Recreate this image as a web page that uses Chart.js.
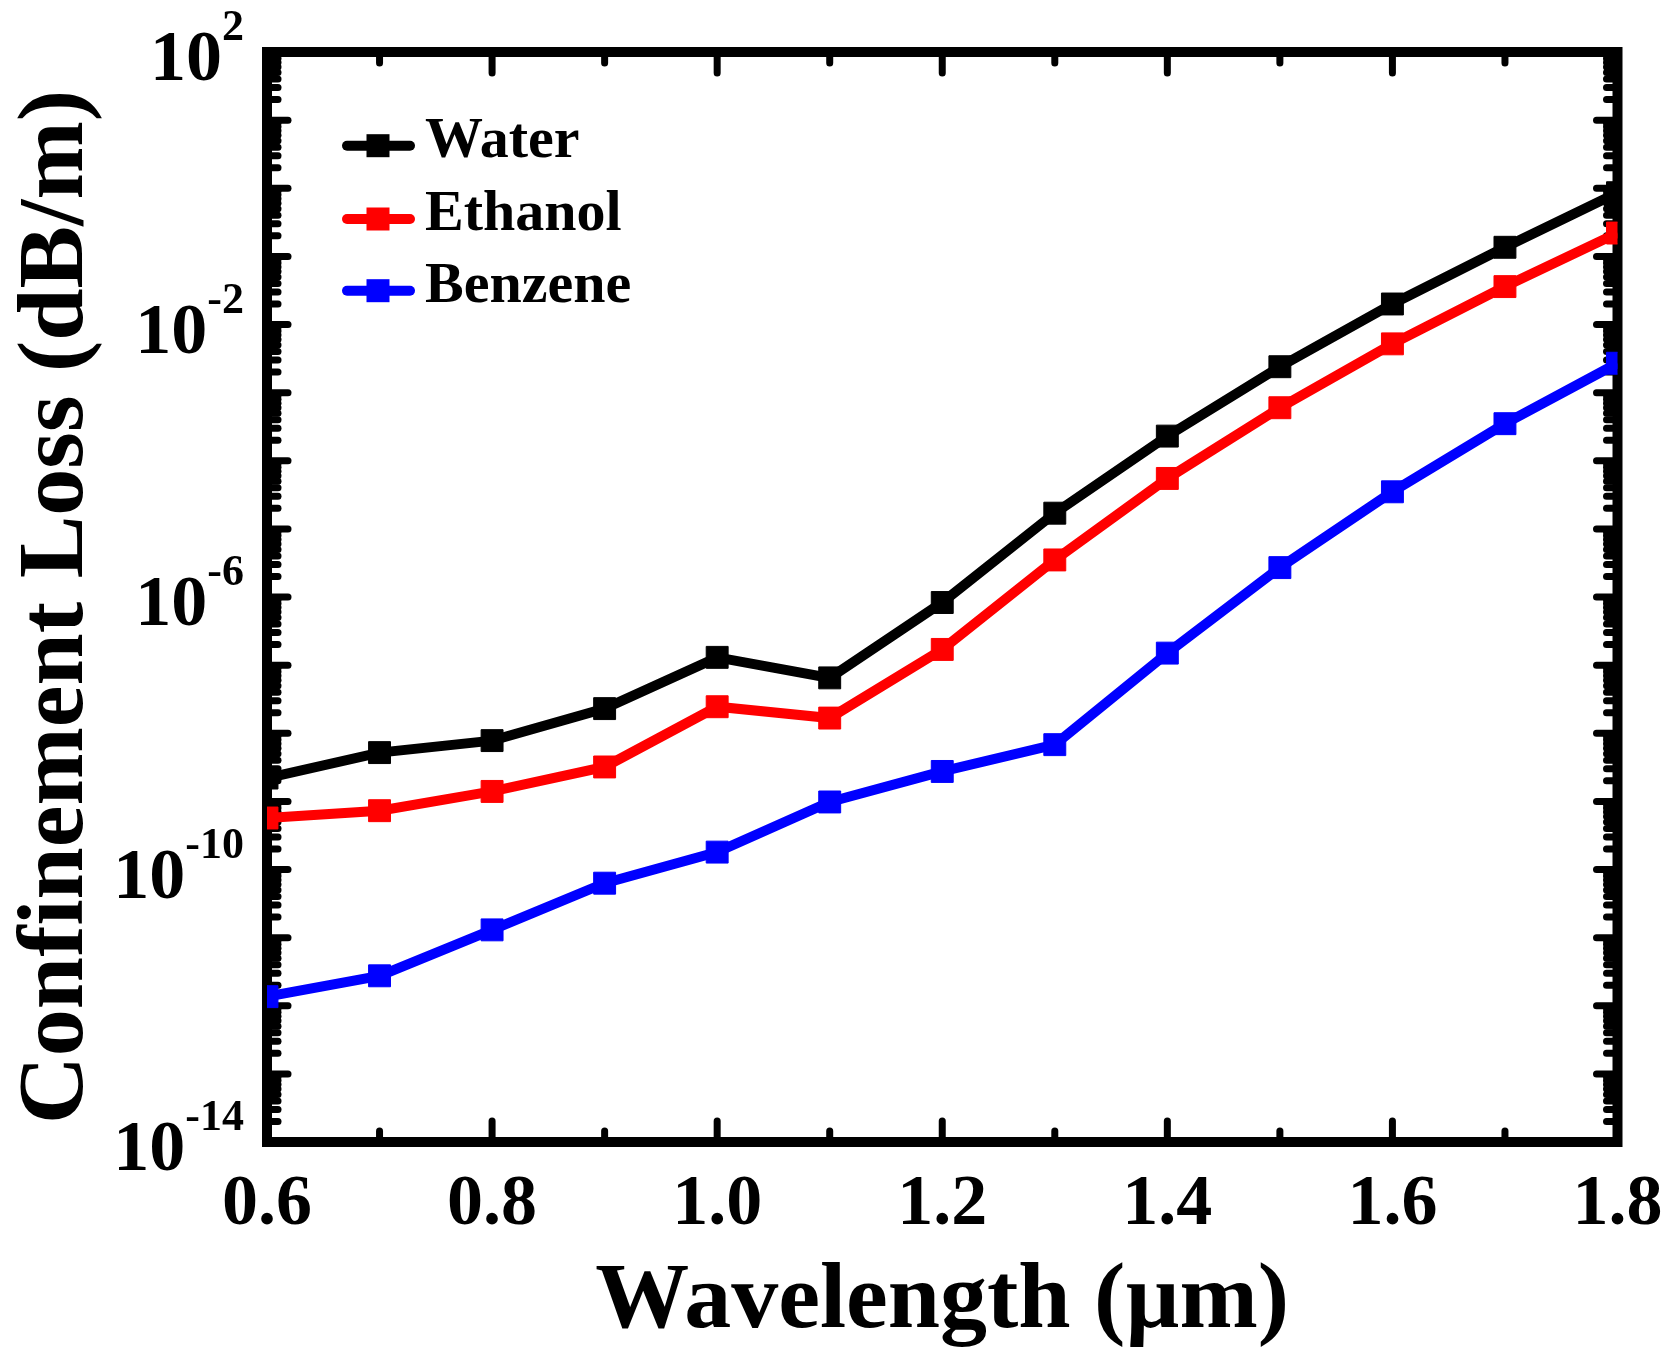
<!DOCTYPE html>
<html>
<head>
<meta charset="utf-8">
<title>Confinement Loss vs Wavelength</title>
<script src="https://cdn.jsdelivr.net/npm/chart.js@4.4.1/dist/chart.umd.min.js"></script>
<style>
  html, body { margin: 0; padding: 0; background: #fff; }
  #wrap { width: 1679px; height: 1357px; }
</style>
</head>
<body>
<div id="wrap"><canvas id="lossChart" width="1679" height="1357"></canvas></div>
<script>
// data
const wavelengths = [0.6, 0.7, 0.8, 0.9, 1.0, 1.1, 1.2, 1.3, 1.4, 1.5, 1.6, 1.7, 1.8];
const water   = [2.2e-9, 5.2e-9, 7.8e-9, 2.3e-8, 1.3e-7, 6.5e-8, 8.3e-7, 1.7e-5, 2.3e-4, 2.4e-3, 2.0e-2, 1.36e-1, 8.6e-1];
const ethanol = [5.7e-10, 7.3e-10, 1.4e-9, 3.2e-9, 2.45e-8, 1.67e-8, 1.7e-7, 3.5e-6, 5.5e-5, 6.0e-4, 5.2e-3, 3.6e-2, 2.2e-1];
const benzene = [1.36e-12, 2.75e-12, 1.3e-11, 6.3e-11, 1.8e-10, 9.8e-10, 2.75e-9, 6.8e-9, 1.5e-7, 2.7e-6, 3.5e-5, 3.5e-4, 2.7e-3];

const seriesNames = ['Water', 'Ethanol', 'Benzene'];
const seriesColors = ['#000000', '#ff0000', '#0000ff'];

const xMajorTicks = [0.6, 0.8, 1.0, 1.2, 1.4, 1.6, 1.8];
const xMinorTicks = [0.7, 0.9, 1.1, 1.3, 1.5, 1.7];
const xTickLabels = ['0.6', '0.8', '1.0', '1.2', '1.4', '1.6', '1.8'];
const yLabelExps = [2, -2, -6, -10, -14];
const yMinExp = -14, yMaxExp = 2;

const serif = '"Liberation Serif", "Times New Roman", serif';

function pts(ys) {
    return ys.map((y, i) => ({ x: wavelengths[i], y: y }));
}

// frame, ticks and labels (drawn under the data, like the original)
const framePlugin = {
    id: 'frame',
    beforeDatasetsDraw(chart) {
        const ctx = chart.ctx;
        const a = chart.chartArea;
        const xs = chart.scales.x, ys = chart.scales.y;
        ctx.save();
        ctx.strokeStyle = '#000';
        ctx.lineCap = 'round';
        ctx.lineWidth = 7;
        const tick = (x1, y1, x2, y2) => { ctx.beginPath(); ctx.moveTo(x1, y1); ctx.lineTo(x2, y2); ctx.stroke(); };

        // y ticks: every decade long, 2..9 short, both sides
        for (let e = yMinExp; e <= yMaxExp; e++) {
            const py = ys.getPixelForValue(Math.pow(10, e));
            tick(a.left, py, a.left + 21, py);
            tick(a.right, py, a.right - 21, py);
            if (e === yMaxExp) continue;
            for (let m = 2; m <= 9; m++) {
                const pm = ys.getPixelForValue(m * Math.pow(10, e));
                tick(a.left, pm, a.left + 11, pm);
                tick(a.right, pm, a.right - 11, pm);
            }
        }
        // x ticks top and bottom
        xMajorTicks.forEach(v => {
            const px = xs.getPixelForValue(v);
            tick(px, a.bottom, px, a.bottom - 21);
            tick(px, a.top, px, a.top + 21);
        });
        xMinorTicks.forEach(v => {
            const px = xs.getPixelForValue(v);
            tick(px, a.bottom, px, a.bottom - 11);
            tick(px, a.top, px, a.top + 11);
        });

        ctx.lineCap = 'butt';
        ctx.lineJoin = 'miter';
        ctx.lineWidth = 10;
        ctx.strokeRect(a.left, a.top, a.right - a.left, a.bottom - a.top);

        // x tick labels
        ctx.fillStyle = '#000';
        ctx.font = 'bold 72px ' + serif;
        ctx.textAlign = 'center';
        ctx.textBaseline = 'alphabetic';
        xMajorTicks.forEach((v, i) => {
            ctx.fillText(xTickLabels[i], xs.getPixelForValue(v), 1224);
        });

        // y tick labels 10^n
        yLabelExps.forEach(e => {
            const py = ys.getPixelForValue(Math.pow(10, e));
            const sup = String(e);
            ctx.font = 'bold 44px ' + serif;
            const sw = ctx.measureText(sup).width;
            ctx.textAlign = 'right';
            ctx.fillText(sup, 244, py - 12);
            ctx.font = 'bold 72px ' + serif;
            ctx.fillText('10', 244 - sw, py + 28);
        });

        // axis titles
        ctx.font = 'bold 94px ' + serif;
        ctx.textAlign = 'center';
        ctx.fillText('Wavelength (\u00b5m)', (a.left + a.right) / 2, 1327);
        ctx.save();
        ctx.translate(82, 607);
        ctx.rotate(-Math.PI / 2);
        ctx.fillText('Confinement Loss (dB/m)', 0, 0);
        ctx.restore();
        ctx.restore();
    },
    afterDatasetsDraw(chart) {
        // legend: line + square marker + name
        const ctx = chart.ctx;
        const rows = [145.7, 219, 290.7];
        ctx.save();
        chart.data.datasets.forEach((ds, i) => {
            const cy = rows[i];
            ctx.strokeStyle = ds.borderColor;
            ctx.fillStyle = ds.borderColor;
            ctx.lineWidth = 10;
            ctx.lineCap = 'round';
            ctx.beginPath();
            ctx.moveTo(347, cy);
            ctx.lineTo(410, cy);
            ctx.stroke();
            ctx.fillRect(378 - 11.5, cy - 11.5, 23, 23);
            ctx.fillStyle = '#000';
            ctx.font = 'bold 58px ' + serif;
            ctx.textAlign = 'left';
            ctx.textBaseline = 'alphabetic';
            ctx.fillText(ds.label, 425, cy + 11);
        });
        ctx.restore();
    }
};

const datasets = [water, ethanol, benzene].map((vals, i) => ({
    label: seriesNames[i],
    data: pts(vals),
    borderColor: seriesColors[i],
    backgroundColor: seriesColors[i],
    borderWidth: 10,
    pointStyle: 'rect',
    pointRadius: 15.5,
    pointBorderWidth: 1,
    pointBackgroundColor: seriesColors[i],
    pointBorderColor: seriesColors[i],
    tension: 0,
    fill: false,
    clip: 0
}));

new Chart(document.getElementById('lossChart'), {
    type: 'line',
    data: { datasets: datasets },
    options: {
        responsive: false,
        animation: false,
        layout: { padding: { left: 267, right: 61.5, top: 52, bottom: 215 } },
        scales: {
            x: { type: 'linear', min: 0.6, max: 1.8, display: false },
            y: { type: 'logarithmic', min: Math.pow(10, yMinExp), max: Math.pow(10, yMaxExp), display: false }
        },
        plugins: { legend: { display: false }, tooltip: { enabled: false } }
    },
    plugins: [framePlugin]
});
</script>
</body>
</html>
